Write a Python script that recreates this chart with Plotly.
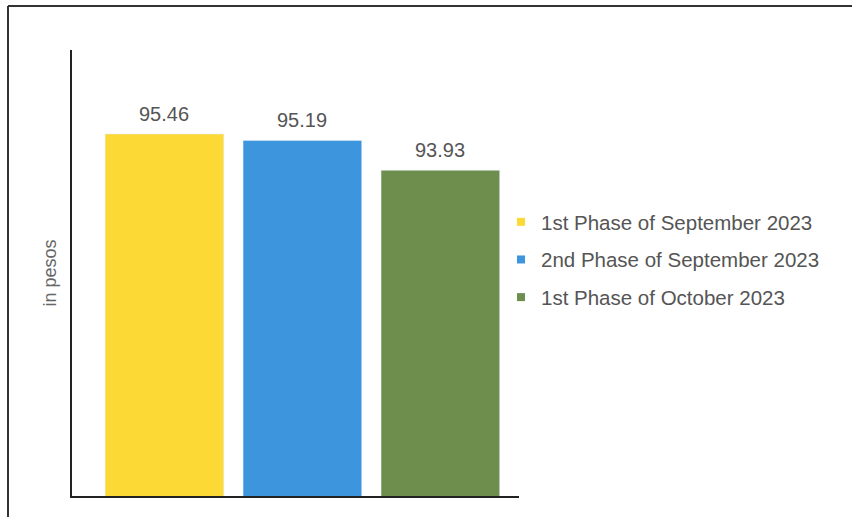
import plotly.graph_objects as go

series_names = ["1st Phase of September 2023", "2nd Phase of September 2023", "1st Phase of October 2023"]
values = [95.46, 95.19, 93.93]
colors = ["#FCD934", "#3C95DD", "#6E8E4E"]
y_title = "in pesos"

FONT = "Liberation Sans, Arial, sans-serif"

fig = go.Figure()
for i, (name, v, c) in enumerate(zip(series_names, values, colors)):
    fig.add_trace(go.Bar(
        x=[i], y=[v], name=name, marker_color=c, width=0.86,
        showlegend=False,
        text=[f"{v:.2f}"], textposition="none", hoverinfo="y",
    ))
    fig.add_annotation(x=i, y=v, text=f"{v:.2f}", showarrow=False, yanchor="bottom",
                       yshift=7, font=dict(family=FONT, size=20, color="#555555"))
    # legend entry
    fig.add_trace(go.Scatter(
        x=[None], y=[None], mode="markers", name=name,
        marker=dict(symbol="square", size=8, color=c),
        legendgroup=f"g{i}",
    ))

fig.update_layout(
    width=852, height=517,
    margin=dict(l=0, r=0, t=0, b=0),
    paper_bgcolor="white", plot_bgcolor="white",
    font=dict(family=FONT, color="#555555"),
    barmode="overlay",
    xaxis=dict(domain=[72/852, 519/852], range=[-0.67, 2.57], showticklabels=False,
               showgrid=False, zeroline=False, showline=True, linecolor="#222222", linewidth=2,
               ticks=""),
    yaxis=dict(domain=[(517-496)/517, (517-50)/517], range=[80.2, 99.0], showticklabels=False,
               showgrid=False, zeroline=False, showline=True, linecolor="#222222", linewidth=2,
               ticks="", title=dict(text=y_title, font=dict(family=FONT, size=18, color="#666666"),
                                    standoff=9)),
    legend=dict(x=501/852, y=(517-202)/517, xanchor="left", yanchor="top",
                font=dict(family=FONT, size=20.5, color="#555555"),
                traceorder="grouped", tracegroupgap=8, bgcolor="rgba(0,0,0,0)"),
    showlegend=True,
    shapes=[
        dict(type="line", xref="paper", yref="paper", x0=8/852, x1=1.01, y0=(517-6)/517, y1=(517-6)/517,
             line=dict(color="#333333", width=2)),
        dict(type="line", xref="paper", yref="paper", x0=8/852, x1=8/852, y0=-0.01, y1=(517-6)/517,
             line=dict(color="#333333", width=2)),
    ],
)

fig.write_html("out.html", config={"displayModeBar": False},
               post_script="document.body.style.margin='0px';document.body.style.padding='0px';")
